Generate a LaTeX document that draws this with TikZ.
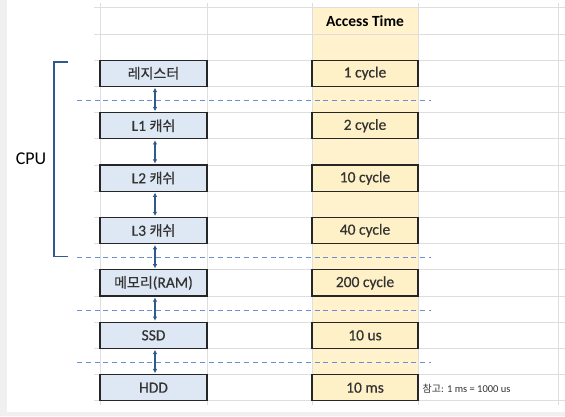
\documentclass[tikz,border=0pt]{standalone}
\usepackage{fontspec}
\setmainfont{Carlito}
\newfontfamily\boxf{Carlito}[FakeBold=0.5]
\newfontfamily\kr{Noto Sans CJK KR}[FakeBold=0.7]
\newfontfamily\krn{Noto Sans CJK KR}
\usetikzlibrary{arrows.meta}
\definecolor{gridc}{HTML}{DEDEDE}
\definecolor{pagebg}{HTML}{F0F0F0}
\definecolor{bluefill}{HTML}{DDE8F4}
\definecolor{yellowfill}{HTML}{FFF2CC}
\definecolor{yellowbox}{HTML}{FEF0C7}
\definecolor{boxline}{HTML}{262626}
\definecolor{arrc}{HTML}{2F5A8C}
\definecolor{dashc}{HTML}{6A8FD4}
\definecolor{txt}{HTML}{333333}
\tikzset{
  memboxl/.style={draw=boxline, line width=1.3pt, fill=bluefill, minimum width=107pt, minimum height=26.2pt, inner sep=0pt, text=txt, font=\boxf\fontsize{15.5}{17}\selectfont},
  timebox/.style={draw=boxline, line width=1.3pt, fill=yellowbox, minimum width=106pt, minimum height=26.2pt, inner sep=0pt, text=txt, font=\boxf\fontsize{15.5}{17}\selectfont},
  gridln/.style={draw=gridc, line width=0.8pt},
  arr/.style={draw=arrc, line width=1.2pt, shorten <=0.8pt, shorten >=0.8pt, {Latex[length=4.2pt,width=4.6pt]}-{Latex[length=4.2pt,width=4.6pt]}},
  sep/.style={draw=dashc, line width=0.9pt, dash pattern=on 5pt off 3.8pt},
  brk/.style={draw=arrc, line width=1.5pt}
}
\newcommand{\krt}[1]{{\kr\fontsize{14}{16}\selectfont #1}}
\begin{document}
\begin{tikzpicture}[x=1pt,y=-1pt]
\useasboundingbox (0,0) rectangle (565,416);
\fill[pagebg] (0,0) rectangle (565,416);
\fill[white] (7,0) rectangle (565,412);
% yellow column
\fill[yellowfill] (312,7.8) rectangle (418,400.8);
% grid
\foreach \k in {0,...,15} {\draw[gridln] (94,7.8+26.2*\k) -- (565,7.8+26.2*\k);}
\foreach \xx in {100,207,312,418,558} {\draw[gridln] (\xx,3) -- (\xx,405);}
% header
\node[font=\bfseries\fontsize{15.5}{17}\selectfont, text=black] (hdr) at (365,21) {Access Time};
% boxes
\node[memboxl] (b1) at (153.5,73.3) {\krt{레지스터}};
\node[memboxl] (b2) at (153.5,125.7) {L1 \krt{캐쉬}};
\node[memboxl] (b3) at (153.5,178.1) {L2 \krt{캐쉬}};
\node[memboxl] (b4) at (153.5,230.5) {L3 \krt{캐쉬}};
\node[memboxl] (b5) at (153.5,282.9) {\krt{메모리}(RAM)};
\node[memboxl] (b6) at (153.5,335.3) {SSD};
\node[memboxl] (b7) at (153.5,387.7) {HDD};
\node[timebox] (t1) at (365,73.3) {1 cycle};
\node[timebox] (t2) at (365,125.7) {2 cycle};
\node[timebox] (t3) at (365,178.1) {10 cycle};
\node[timebox] (t4) at (365,230.5) {40 cycle};
\node[timebox] (t5) at (365,282.9) {200 cycle};
\node[timebox] (t6) at (365,335.3) {10 us};
\node[timebox] (t7) at (365,387.7) {10 ms};
% arrows
\foreach \a/\b in {b1/b2,b2/b3,b3/b4,b4/b5,b5/b6,b6/b7} {
  \draw[arr] ([xshift=1.5pt]\a.south) -- ([xshift=1.5pt]\b.north);
}
% dashed separators
\foreach \yy in {100,257.8,310,362} {\draw[sep] (77,\yy) -- (431,\yy);}
% bracket
\coordinate (bt) at (68,62);
\coordinate (bb) at (68,256.7);
\draw[brk] (bt) -- (54,62) -- (54,256.7) -- (bb);
\node[font=\fontsize{18}{20}\selectfont, text=black] (cpu) at (31,159) {CPU};
% note
\node[anchor=west, inner sep=0pt, text=txt, font=\fontsize{10.5}{12}\selectfont] (note) at (422.5,389) {{\krn\fontsize{10}{11}\selectfont 참고}: 1 ms = 1000 us};
\end{tikzpicture}
\end{document}
